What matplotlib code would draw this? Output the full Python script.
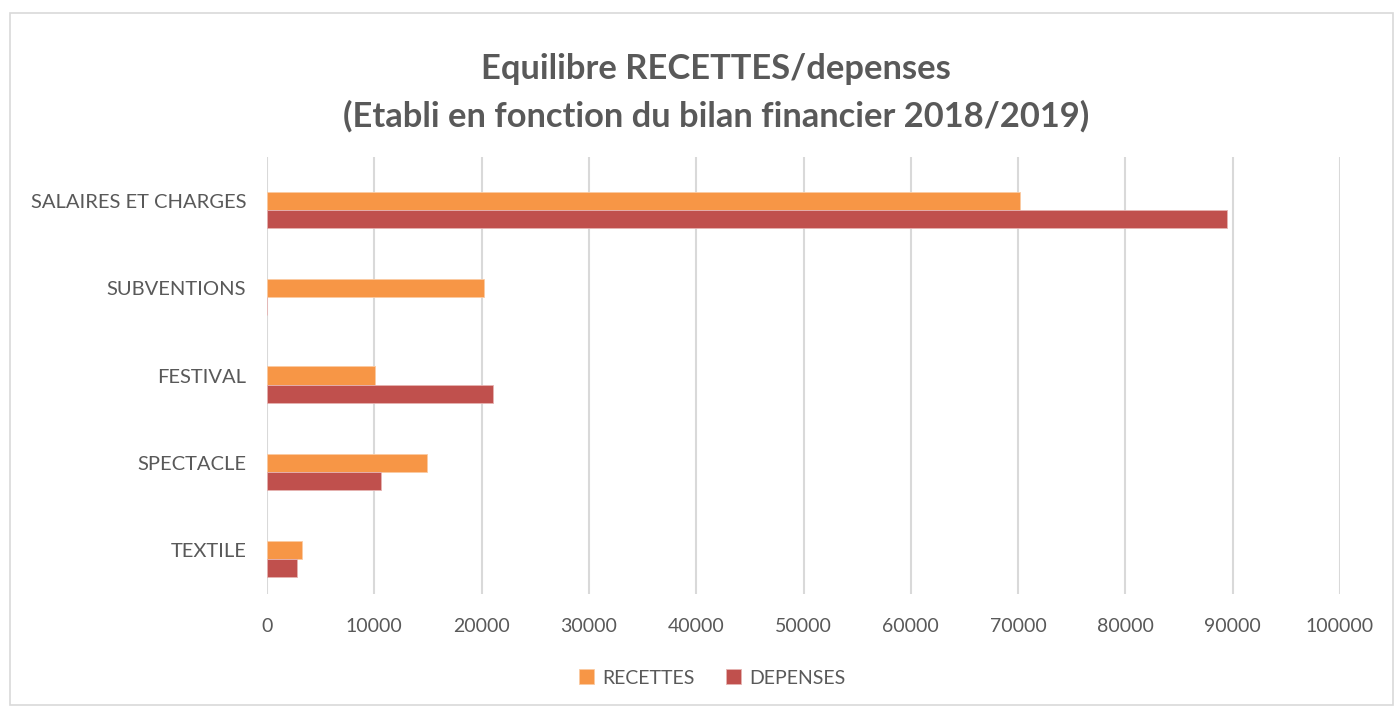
import matplotlib
matplotlib.use("Agg")
import matplotlib.pyplot as plt
from matplotlib.patches import Rectangle
import numpy as np

plt.rcParams['font.family'] = ['Lato', 'DejaVu Sans']

categories = ["SALAIRES ET CHARGES", "SUBVENTIONS", "FESTIVAL", "SPECTACLE", "TEXTILE"]
recettes = [70200, 20250, 10050, 14900, 3230]
depenses = [89500, 0, 21100, 10650, 2830]
x_ticks = [0, 10000, 20000, 30000, 40000, 50000, 60000, 70000, 80000, 90000, 100000]

grey = "#595959"
c_rec = "#F79646"
c_dep = "#C0504D"

fig = plt.figure(figsize=(13.96, 7.09), dpi=100)
ax = fig.add_axes([267 / 1396, 1 - 594 / 709, (1340 - 267) / 1396, (594 - 157) / 709])

# cadre du graphique
fig.patches.append(Rectangle((10 / 1396, 4 / 709), 1383 / 1396, 692 / 709,
                             transform=fig.transFigure, fill=False,
                             edgecolor="#D9D9D9", linewidth=1.2))

y = np.arange(len(categories))
h = 0.206
ax.barh(y, recettes, height=h, color=c_rec, edgecolor="#FBCBA3", linewidth=0.6,
        label="RECETTES", zorder=3)
ax.barh(y + h, depenses, height=h, color=c_dep, edgecolor="#E6B3B2", linewidth=0.6,
        label="DEPENSES", zorder=3)

ax.set_ylim(len(categories) - 0.5, -0.5)
ax.set_xlim(0, 100000)
ax.set_yticks(y)
ax.set_yticklabels(categories, fontsize=14.5, color=grey)
ax.set_xticks(x_ticks)
ax.set_xticklabels([str(v) for v in x_ticks], fontsize=14, color=grey)
ax.tick_params(axis='both', length=0)
ax.tick_params(axis='x', pad=17)
ax.tick_params(axis='y', pad=15)
ax.grid(axis='x', color="#D9D9D9", linewidth=1.5, zorder=0)
for s in ax.spines.values():
    s.set_visible(False)

tx = 716 / 1396
fig.text(tx, 1 - 69 / 709, "Equilibre RECETTES/depenses", ha='center', va='center',
         fontsize=24.8, fontweight='bold', color=grey)
fig.text(tx, 1 - 116 / 709, "(Etabli en fonction du bilan financier 2018/2019)",
         ha='center', va='center', fontsize=24.8, fontweight='bold', color=grey)

fig.legend(loc='center', bbox_to_anchor=(712 / 1396, 1 - 678 / 709), ncol=2,
           frameon=False, fontsize=14, labelcolor=grey, handlelength=0.8,
           handleheight=0.8, handletextpad=0.4, columnspacing=1.6)

fig.savefig("out.png", dpi=100, facecolor="white")
